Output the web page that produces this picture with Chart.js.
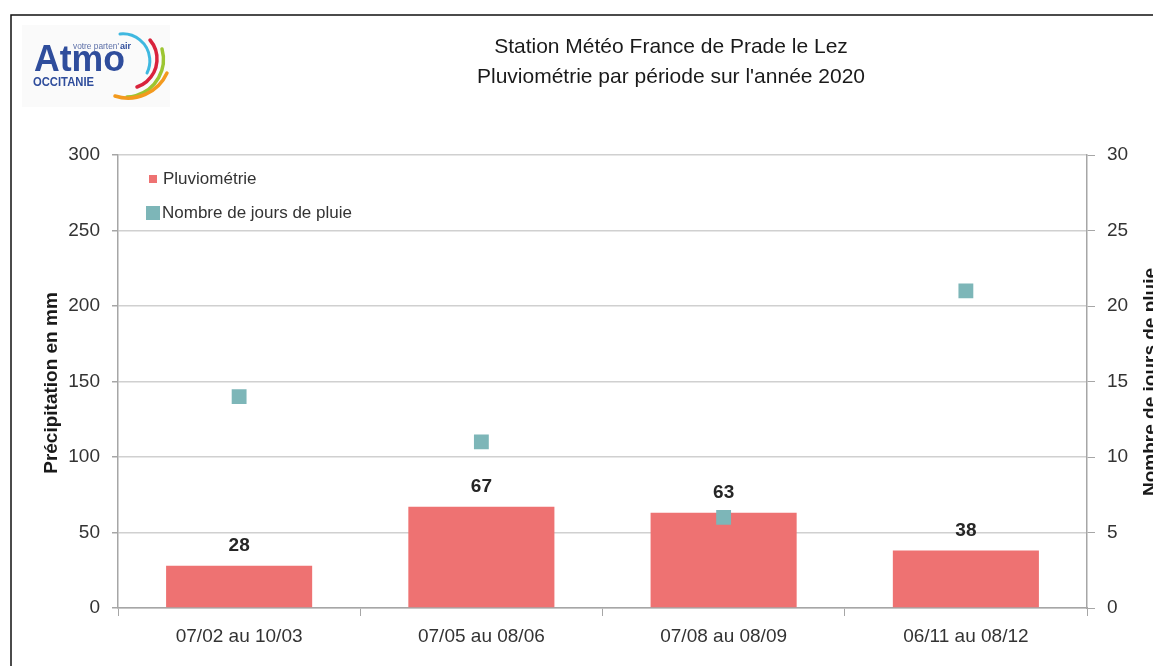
<!DOCTYPE html>
<html>
<head>
<meta charset="utf-8">
<script src="https://cdn.jsdelivr.net/npm/chart.js@4.4.1/dist/chart.umd.min.js"></script>
<style>
  body { margin: 0; background: #fff; }
  #wrap { width: 1153px; height: 666px; position: relative; }
</style>
</head>
<body>
<div id="wrap"><canvas id="rainChart"></canvas></div>
<script>
// Chart data
const periods = ['07/02 au 10/03', '07/05 au 08/06', '07/08 au 08/09', '06/11 au 08/12'];
const rainfall = [28, 67, 63, 38];
const rainyDays = [14, 11, 6, 21];
const rainTicks = [0, 50, 100, 150, 200, 250, 300];
const dayTicks = [0, 5, 10, 15, 20, 25, 30];

const FONT = "'Liberation Sans', Arial, sans-serif";
const BAR_COLOR = '#ee7272';
const POINT_COLOR = '#7db6b8';
const AXIS_COLOR = '#a6a6a6';
const GRID_COLOR = '#d0d0d0';
const TEXT_COLOR = '#333333';

// Draw frame, logo, titles, legend, axis titles and bar labels
const decorPlugin = {
    id: 'decor',
    beforeDraw(chart) {
        const ctx = chart.ctx;
        ctx.save();
        ctx.fillStyle = '#fff';
        ctx.fillRect(0, 0, chart.width, chart.height);

        // outer frame
        ctx.strokeStyle = '#111';
        ctx.lineWidth = 1.5;
        ctx.beginPath();
        ctx.moveTo(11, 666);
        ctx.lineTo(11, 15);
        ctx.lineTo(1153, 15);
        ctx.stroke();

        drawLogo(ctx);

        // titles
        ctx.fillStyle = '#1a1a1a';
        ctx.font = `21px ${FONT}`;
        ctx.textAlign = 'center';
        ctx.textBaseline = 'middle';
        ctx.fillText('Station Météo France de Prade le Lez', 671, 47);
        ctx.fillText("Pluviométrie par période sur l'année 2020", 671, 77);

        // axis titles
        ctx.font = `bold 19px ${FONT}`;
        ctx.fillStyle = '#1a1a1a';
        ctx.textBaseline = 'alphabetic';
        ctx.save();
        ctx.translate(57, 383);
        ctx.rotate(-Math.PI / 2);
        ctx.fillText('Précipitation en mm', 0, 0);
        ctx.restore();
        ctx.save();
        ctx.translate(1156, 382);
        ctx.rotate(-Math.PI / 2);
        ctx.fillText('Nombre de jours de pluie', 0, 0);
        ctx.restore();

        ctx.restore();
    },
    afterDatasetsDraw(chart) {
        const ctx = chart.ctx;
        ctx.save();

        // value labels above bars
        const meta = chart.getDatasetMeta(1);
        ctx.font = `bold 19px ${FONT}`;
        ctx.fillStyle = '#262626';
        ctx.textAlign = 'center';
        ctx.textBaseline = 'alphabetic';
        meta.data.forEach((bar, i) => {
            ctx.fillText(String(rainfall[i]), bar.x, bar.y - 15);
        });

        // legend
        ctx.font = `17px ${FONT}`;
        ctx.textAlign = 'left';
        ctx.textBaseline = 'middle';
        ctx.fillStyle = BAR_COLOR;
        ctx.fillRect(149, 175, 8, 8);
        ctx.fillStyle = TEXT_COLOR;
        ctx.fillText('Pluviométrie', 163, 179);
        ctx.fillStyle = POINT_COLOR;
        ctx.fillRect(146, 206, 14, 14);
        ctx.fillStyle = TEXT_COLOR;
        ctx.fillText('Nombre de jours de pluie', 162, 213);

        ctx.restore();
    }
};

// arc through three points, drawn clockwise from p1 to p3
function arc3(ctx, p1, p2, p3) {
    const [ax, ay] = p1, [bx, by] = p2, [cx, cy] = p3;
    const d = 2 * (ax * (by - cy) + bx * (cy - ay) + cx * (ay - by));
    const ux = ((ax * ax + ay * ay) * (by - cy) + (bx * bx + by * by) * (cy - ay) + (cx * cx + cy * cy) * (ay - by)) / d;
    const uy = ((ax * ax + ay * ay) * (cx - bx) + (bx * bx + by * by) * (ax - cx) + (cx * cx + cy * cy) * (bx - ax)) / d;
    const r = Math.hypot(ax - ux, ay - uy);
    ctx.beginPath();
    ctx.arc(ux, uy, r, Math.atan2(ay - uy, ax - ux), Math.atan2(cy - uy, cx - ux));
    ctx.stroke();
}

function drawLogo(ctx) {
    ctx.save();
    ctx.fillStyle = '#fafafa';
    ctx.fillRect(22, 25, 148, 82);

    const blue = '#2f4d9c';
    ctx.textAlign = 'left';
    ctx.textBaseline = 'alphabetic';
    ctx.fillStyle = blue;
    ctx.font = `bold 36px ${FONT}`;
    ctx.fillText('Atmo', 34, 71, 91);
    ctx.font = `bold 12px ${FONT}`;
    ctx.fillText('OCCITANIE', 33, 86, 61);
    ctx.font = `9px ${FONT}`;
    ctx.fillStyle = '#5c6fa8';
    ctx.fillText("votre parten'", 73, 49, 46);
    ctx.font = `bold 9px ${FONT}`;
    ctx.fillStyle = blue;
    ctx.fillText('air', 120, 49);

    const arcs = [
        { color: '#3fb8e0', w: 3, pts: [[120, 34], [146, 47], [147, 73]] },
        { color: '#d9233c', w: 3.5, pts: [[150, 40], [157, 60], [137, 87]] },
        { color: '#9cc531', w: 3.5, pts: [[162, 49], [160, 75], [127, 97]] },
        { color: '#f39a1e', w: 3.5, pts: [[167, 73], [150, 92], [115, 96]] }
    ];
    ctx.lineCap = 'round';
    arcs.forEach(a => {
        ctx.strokeStyle = a.color;
        ctx.lineWidth = a.w;
        arc3(ctx, a.pts[0], a.pts[1], a.pts[2]);
    });
    ctx.restore();
}

const ctx = document.getElementById('rainChart').getContext('2d');
const rainChart = new Chart(ctx, {
    type: 'bar',
    data: {
        labels: periods,
        datasets: [
            {
                label: 'Nombre de jours de pluie',
                type: 'line',
                data: rainyDays,
                yAxisID: 'y1',
                showLine: false,
                pointStyle: 'rect',
                pointRadius: 10.5,
                pointBackgroundColor: POINT_COLOR,
                pointBorderWidth: 0,
                order: 0
            },
            {
                label: 'Pluviométrie',
                data: rainfall,
                yAxisID: 'y',
                backgroundColor: BAR_COLOR,
                barPercentage: 0.603,
                categoryPercentage: 1,
                order: 1
            }
        ]
    },
    options: {
        responsive: true,
        maintainAspectRatio: false,
        animation: false,
        layout: { padding: { top: 155, left: 0, right: 0, bottom: 0 } },
        plugins: {
            legend: { display: false },
            title: { display: false },
            tooltip: { enabled: false }
        },
        scales: {
            x: {
                grid: {
                    offset: true,
                    drawOnChartArea: false,
                    drawTicks: true,
                    tickLength: 8,
                    tickColor: AXIS_COLOR
                },
                border: { color: AXIS_COLOR, width: 1.5 },
                ticks: {
                    font: { family: FONT, size: 19 },
                    color: TEXT_COLOR,
                    padding: 9
                },
                afterFit(scale) { scale.height = 58; }
            },
            y: {
                position: 'left',
                min: 0,
                max: 300,
                afterBuildTicks(scale) { scale.ticks = rainTicks.map(v => ({ value: v })); },
                grid: {
                    color: GRID_COLOR,
                    lineWidth: 1.5,
                    tickLength: 6,
                    tickColor: AXIS_COLOR
                },
                border: { color: AXIS_COLOR, width: 1.5 },
                ticks: {
                    font: { family: FONT, size: 19 },
                    color: TEXT_COLOR,
                    padding: 12
                },
                afterFit(scale) { scale.width = 118; }
            },
            y1: {
                position: 'right',
                min: 0,
                max: 30,
                afterBuildTicks(scale) { scale.ticks = dayTicks.map(v => ({ value: v })); },
                grid: {
                    drawOnChartArea: false,
                    tickLength: 8,
                    tickColor: AXIS_COLOR
                },
                border: { color: AXIS_COLOR, width: 1.5 },
                ticks: {
                    font: { family: FONT, size: 19 },
                    color: TEXT_COLOR,
                    padding: 12
                },
                afterFit(scale) { scale.width = 66; }
            }
        }
    },
    plugins: [decorPlugin]
});
</script>
</body>
</html>
